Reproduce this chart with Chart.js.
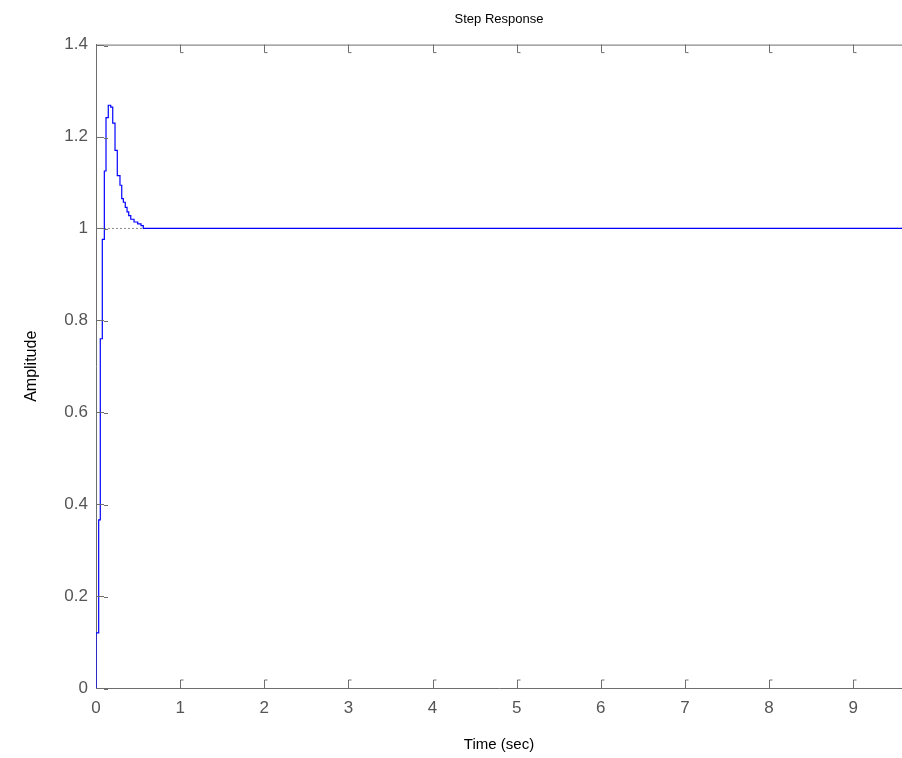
<!DOCTYPE html>
<html>
<head>
<meta charset="utf-8">
<script src="https://cdn.jsdelivr.net/npm/chart.js@4/dist/chart.umd.min.js"></script>
<style>
  html, body { margin: 0; padding: 0; background: #fff; }
  #wrap { width: 902px; height: 758px; }
</style>
</head>
<body>
<div id="wrap"><canvas id="stepChart"></canvas></div>
<script>
// sample times (sec) and held amplitude values
const stepTimes = [0, 0, 0.032, 0.051, 0.075, 0.099, 0.119, 0.146, 0.175, 0.199, 0.226, 0.253, 0.285, 0.306, 0.325, 0.348, 0.369, 0.389, 0.413, 0.452, 0.496, 0.535, 0.562, 9.58];
const stepValues = [0, 0.12, 0.366, 0.76, 0.976, 1.125, 1.241, 1.268, 1.264, 1.229, 1.17, 1.115, 1.094, 1.065, 1.057, 1.046, 1.036, 1.028, 1.02, 1.014, 1.01, 1.006, 1.0, 1.0];
const finalValue = 1;
const xTicks = [0, 1, 2, 3, 4, 5, 6, 7, 8, 9];
const yTicks = [0, 0.2, 0.4, 0.6, 0.8, 1, 1.2, 1.4];
const xMax = 9.58;

const axisGray = '#6e6e6e';
const labelGray = '#555555';
const fontFamily = '"Liberation Sans", Arial, sans-serif';

const stepPoints = stepTimes.map((t, i) => ({ x: t, y: stepValues[i] }));

// MATLAB style inward ticks and top box edge
const matlabBox = {
    id: 'matlabBox',
    afterDatasetsDraw(chart) {
        const ctx = chart.ctx;
        const area = chart.chartArea;
        const xs = chart.scales.x;
        const ys = chart.scales.y;
        ctx.save();
        ctx.strokeStyle = axisGray;
        ctx.lineWidth = 1;
        ctx.beginPath();
        ctx.moveTo(area.left, area.top + 0.5);
        ctx.lineTo(area.right, area.top + 0.5);
        xTicks.forEach(v => {
            const px = Math.round(xs.getPixelForValue(v)) + 0.5;
            if (v === 0) return;
            ctx.moveTo(px, area.bottom);
            ctx.lineTo(px, area.bottom - 8);
            ctx.lineTo(px + 3, area.bottom - 8);
            ctx.moveTo(px, area.top);
            ctx.lineTo(px, area.top + 8);
            ctx.lineTo(px + 3, area.top + 8);
        });
        yTicks.forEach(v => {
            const py = Math.round(ys.getPixelForValue(v)) + 0.5;
            ctx.moveTo(area.left, py);
            ctx.lineTo(area.left + 8, py);
            ctx.moveTo(area.left + 8, py + 1);
            ctx.lineTo(area.left + 12, py + 1);
        });
        ctx.stroke();
        ctx.restore();
    }
};

new Chart(document.getElementById('stepChart'), {
    type: 'line',
    data: {
        datasets: [{
            data: stepPoints,
            borderColor: '#0000ff',
            borderWidth: 1.2,
            stepped: 'before',
            pointRadius: 0,
            fill: false,
            order: 1
        }, {
            data: [{ x: 0, y: finalValue }, { x: xMax, y: finalValue }],
            borderColor: '#8a8a8a',
            borderWidth: 1,
            borderDash: [2, 2],
            pointRadius: 0,
            fill: false,
            order: 2
        }]
    },
    plugins: [matlabBox],
    options: {
        responsive: true,
        maintainAspectRatio: false,
        animation: false,
        layout: { padding: { left: 0, right: 0, top: 0, bottom: 0 } },
        plugins: {
            legend: { display: false },
            tooltip: { enabled: false },
            title: {
                display: true,
                fullSize: false,
                text: 'Step Response',
                color: '#000',
                font: { family: fontFamily, size: 13, weight: 'normal' },
                padding: { top: 12, bottom: 17 }
            }
        },
        scales: {
            x: {
                type: 'linear',
                min: 0,
                max: xMax,
                afterFit(s) { s.height = 70; },
                afterBuildTicks(s) { s.ticks = xTicks.map(v => ({ value: v })); },
                border: { display: true, color: axisGray, width: 1 },
                grid: { display: false, drawTicks: false },
                ticks: {
                    color: labelGray,
                    padding: 10,
                    font: { family: fontFamily, size: 17 }
                },
                title: {
                    display: true,
                    text: 'Time (sec)',
                    color: '#000',
                    font: { family: fontFamily, size: 15 },
                    padding: { top: 0, bottom: 4 }
                }
            },
            y: {
                type: 'linear',
                min: 0,
                max: 1.4,
                afterFit(s) { s.width = 96; },
                afterBuildTicks(s) { s.ticks = yTicks.map(v => ({ value: v })); },
                border: { display: true, color: axisGray, width: 1 },
                grid: { display: false, drawTicks: false },
                ticks: {
                    color: labelGray,
                    padding: 8,
                    font: { family: fontFamily, size: 17 },
                    callback: v => String(v)
                },
                title: {
                    display: true,
                    text: 'Amplitude',
                    color: '#000',
                    font: { family: fontFamily, size: 16 },
                    padding: { top: 22, bottom: 0 }
                }
            }
        }
    }
});
</script>
</body>
</html>
